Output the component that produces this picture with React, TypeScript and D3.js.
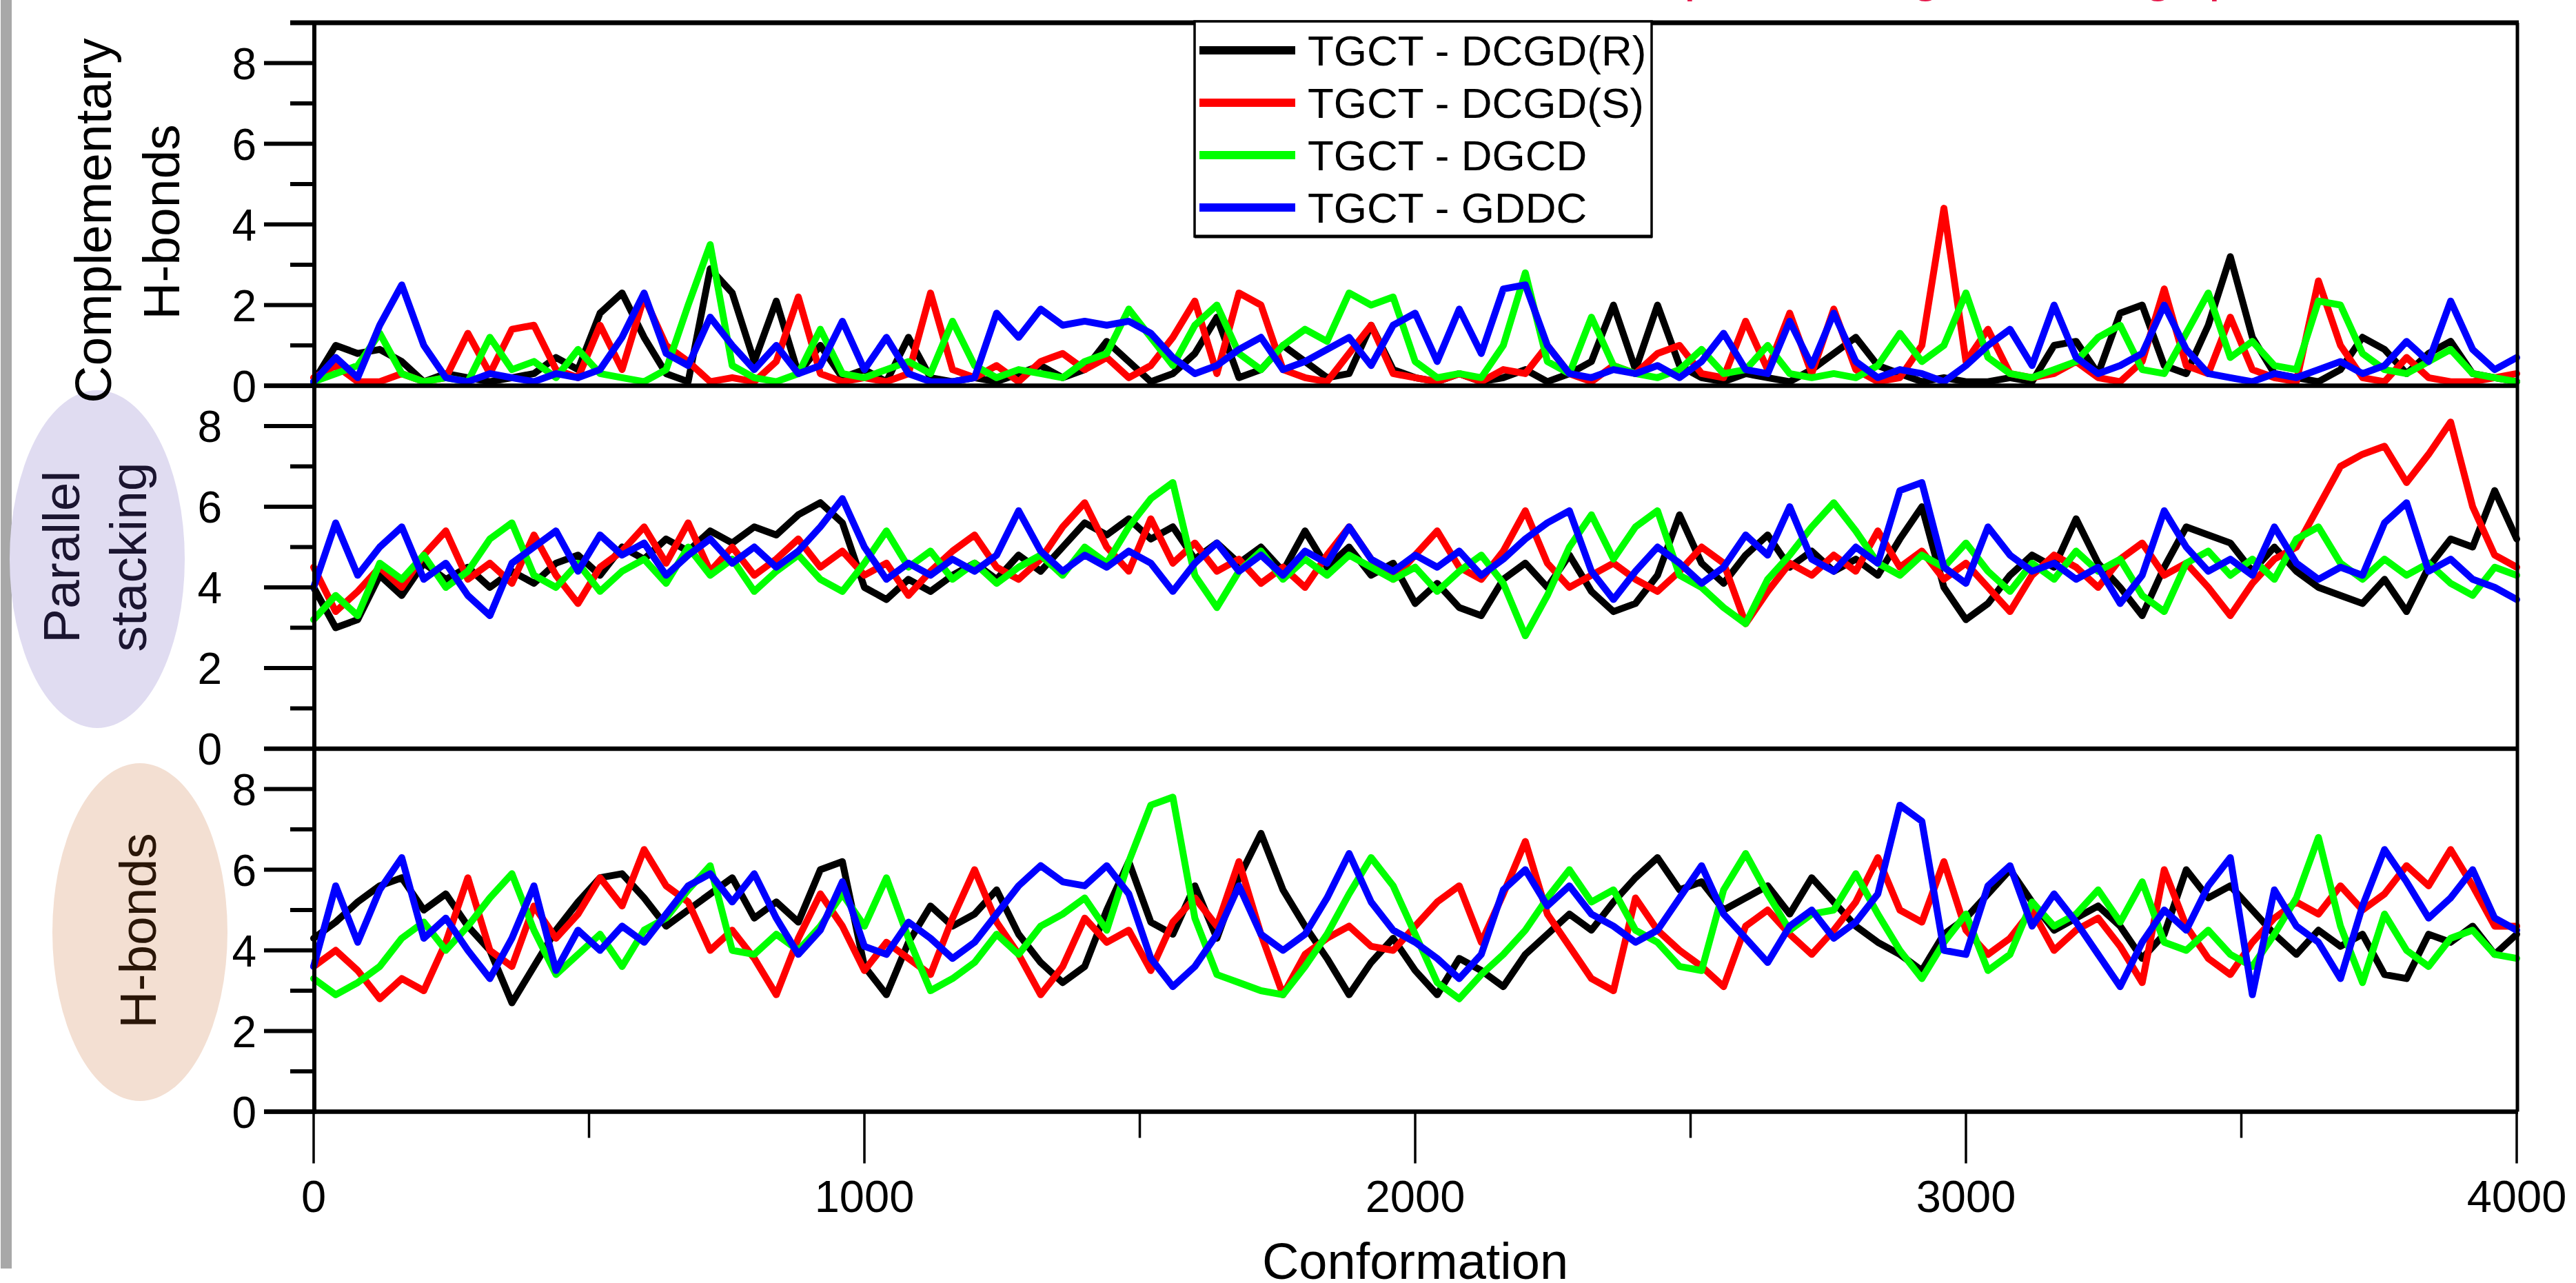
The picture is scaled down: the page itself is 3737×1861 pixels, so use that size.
import React from 'react';
import * as d3 from 'd3';

const W = 3737;
const H = 1861;

// x grid (conformation index), one sample every 40 conformations
const conformations = d3.range(0, 4001, 40);

const seriesNames = ['TGCT - DCGD(R)', 'TGCT - DCGD(S)', 'TGCT - DGCD', 'TGCT - GDDC'];
const seriesColors = ['#000000', '#ff0000', '#00ff00', '#0000ff'];

// ---- Complementary H-bonds ----
const compR = [0.1,1.0,0.8,0.9,0.6,0.1,0.3,0.2,0.1,0.2,
  0.3,0.7,0.4,1.8,2.3,1.2,0.3,0.1,2.9,2.3,
  0.6,2.1,0.3,1.0,0.2,0.4,0.1,1.2,0.2,0.1,
  0.2,0.1,0.3,0.5,0.2,0.4,1.1,0.6,0.1,0.3,
  0.8,1.7,0.2,0.4,1.0,0.6,0.2,0.3,1.5,0.4,
  0.2,0.1,0.3,0.1,0.2,0.4,0.1,0.3,0.6,2.0,
  0.4,2.0,0.5,0.2,0.1,0.3,0.2,0.1,0.4,0.8,
  1.2,0.5,0.3,0.1,0.2,0.1,0.1,0.2,0.1,1.0,
  1.1,0.3,1.8,2.0,0.5,0.3,1.5,3.2,1.2,0.3,
  0.2,0.1,0.4,1.2,0.9,0.3,0.8,1.1,0.3,0.2,0.1];
const compS = [0.2,0.5,0.1,0.1,0.3,0.1,0.2,1.3,0.3,1.4,
  1.5,0.4,0.2,1.5,0.4,2.2,1.0,0.6,0.1,0.2,
  0.1,0.6,2.2,0.3,0.1,0.2,0.1,0.3,2.3,0.4,
  0.2,0.5,0.1,0.6,0.8,0.4,0.7,0.2,0.5,1.2,
  2.1,0.3,2.3,2.0,0.4,0.2,0.1,0.8,1.5,0.3,
  0.2,0.1,0.3,0.1,0.4,0.3,1.0,0.3,0.1,0.5,
  0.3,0.8,1.0,0.3,0.2,1.6,0.4,1.8,0.3,1.9,
  0.4,0.1,0.2,1.0,4.4,0.6,1.4,0.3,0.2,0.3,
  0.6,0.2,0.1,0.6,2.4,0.5,0.3,1.7,0.4,0.2,
  0.1,2.6,1.0,0.2,0.1,0.7,0.2,0.1,0.1,0.2,0.3];
const compDGCD = [0.1,0.3,0.5,1.3,0.3,0.1,0.2,0.1,1.2,0.4,
  0.6,0.2,0.9,0.3,0.2,0.1,0.4,2.0,3.5,0.5,
  0.2,0.1,0.3,1.4,0.3,0.2,0.4,0.6,0.3,1.6,
  0.5,0.2,0.4,0.3,0.2,0.6,0.8,1.9,1.2,0.5,
  1.5,2.0,0.8,0.4,1.0,1.4,1.1,2.3,2.0,2.2,
  0.6,0.2,0.3,0.2,1.0,2.8,0.6,0.3,1.7,0.5,
  0.3,0.2,0.4,0.9,0.3,0.4,1.0,0.3,0.2,0.3,
  0.2,0.5,1.3,0.6,1.0,2.3,0.7,0.3,0.2,0.4,
  0.6,1.2,1.5,0.4,0.3,1.3,2.3,0.7,1.1,0.5,
  0.4,2.1,2.0,0.8,0.4,0.3,0.6,0.9,0.3,0.2,0.1];
const compGDDC = [0.1,0.7,0.2,1.5,2.5,1.0,0.2,0.1,0.3,0.2,
  0.1,0.3,0.2,0.4,1.2,2.3,0.8,0.5,1.7,1.0,
  0.4,1.0,0.3,0.5,1.6,0.4,1.2,0.3,0.1,0.1,
  0.2,1.8,1.2,1.9,1.5,1.6,1.5,1.6,1.3,0.7,
  0.3,0.5,0.9,1.2,0.4,0.6,0.9,1.2,0.5,1.5,
  1.8,0.6,1.9,0.8,2.4,2.5,1.0,0.3,0.2,0.4,
  0.3,0.5,0.2,0.6,1.3,0.4,0.3,1.6,0.5,1.8,
  0.6,0.2,0.4,0.3,0.1,0.5,1.0,1.4,0.5,2.0,
  0.7,0.3,0.5,0.8,2.0,0.9,0.3,0.2,0.1,0.3,
  0.2,0.4,0.6,0.3,0.5,1.1,0.6,2.1,0.9,0.4,0.7];

// ---- Parallel stacking ----
const stackR = [4.0,3.0,3.2,4.3,3.8,4.6,4.2,4.5,4.0,4.4,
  4.1,4.6,4.8,4.3,5.0,4.7,5.2,4.9,5.4,5.1,
  5.5,5.3,5.8,6.1,5.6,4.0,3.7,4.2,3.9,4.3,
  4.6,4.2,4.8,4.4,5.0,5.6,5.3,5.7,5.2,5.5,
  4.7,5.1,4.6,5.0,4.4,5.4,4.5,5.0,4.3,4.6,
  3.6,4.1,3.5,3.3,4.2,4.6,4.0,4.8,3.9,3.4,
  3.6,4.3,5.8,4.6,4.1,4.8,5.3,4.5,4.9,4.4,
  4.7,4.3,5.2,6.0,4.0,3.2,3.6,4.3,4.8,4.5,
  5.7,4.6,4.0,3.3,4.5,5.5,5.3,5.1,4.4,5.0,
  4.4,4.0,3.8,3.6,4.2,3.4,4.5,5.2,5.0,6.4,5.2];
const stackS = [4.5,3.4,3.9,4.5,4.0,4.8,5.4,4.2,4.6,4.1,
  5.3,4.3,3.6,4.5,4.9,5.5,4.6,5.6,4.4,5.0,
  4.3,4.7,5.2,4.5,4.9,4.3,4.6,3.8,4.4,4.9,
  5.3,4.5,4.2,4.7,5.5,6.1,5.0,4.4,5.7,4.6,
  5.1,4.4,4.7,4.1,4.5,4.0,4.8,5.5,4.7,4.2,
  4.8,5.4,4.5,4.2,4.9,5.9,4.6,4.0,4.3,4.6,
  4.2,3.9,4.4,5.0,4.6,3.1,3.9,4.6,4.3,4.8,
  4.4,5.4,4.5,4.9,4.2,4.6,4.0,3.4,4.3,4.8,
  4.5,4.0,4.7,5.1,4.3,4.6,4.0,3.3,4.1,4.7,
  5.0,6.0,7.0,7.3,7.5,6.6,7.3,8.1,6.0,4.8,4.5];
const stackDGCD = [3.2,3.8,3.3,4.6,4.2,4.8,4.0,4.4,5.2,5.6,
  4.3,4.0,4.6,3.9,4.4,4.7,4.1,5.0,4.3,4.7,
  3.9,4.4,4.8,4.2,3.9,4.6,5.4,4.5,4.9,4.2,
  4.6,4.1,4.5,4.8,4.3,5.0,4.6,5.5,6.2,6.6,
  4.3,3.5,4.4,4.9,4.2,4.7,4.3,4.8,4.5,4.2,
  4.5,3.9,4.4,4.8,4.1,2.8,3.8,5.0,5.8,4.7,
  5.5,5.9,4.3,4.0,3.5,3.1,4.2,4.8,5.5,6.1,
  5.4,4.6,4.3,4.8,4.5,5.1,4.4,3.9,4.6,4.2,
  4.9,4.4,4.7,3.8,3.4,4.6,4.9,4.3,4.7,4.2,
  5.2,5.5,4.6,4.2,4.7,4.3,4.6,4.1,3.8,4.5,4.3];
const stackGDDC = [4.0,5.6,4.3,5.0,5.5,4.2,4.6,3.8,3.3,4.6,
  5.0,5.4,4.4,5.3,4.8,5.1,4.3,4.8,5.2,4.6,
  5.0,4.5,4.9,5.5,6.2,5.0,4.2,4.6,4.3,4.7,
  4.4,4.8,5.9,4.9,4.4,4.8,4.5,4.9,4.6,3.9,
  4.6,5.1,4.4,4.8,4.3,4.9,4.6,5.5,4.7,4.4,
  4.8,4.5,4.9,4.3,4.7,5.2,5.6,5.9,4.4,3.7,
  4.4,5.0,4.6,4.1,4.5,5.3,4.8,6.0,4.7,4.4,
  5.0,4.6,6.4,6.6,4.5,4.1,5.5,4.8,4.4,4.6,
  4.2,4.5,3.6,4.3,5.9,5.0,4.4,4.7,4.3,5.5,
  4.6,4.2,4.5,4.3,5.6,6.1,4.4,4.7,4.2,4.0,3.7];

// ---- H-bonds ----
const hbR = [4.3,4.7,5.2,5.6,5.8,5.0,5.4,4.6,4.0,2.7,
  3.6,4.5,5.2,5.8,5.9,5.3,4.6,5.0,5.4,5.8,
  4.8,5.2,4.7,6.0,6.2,3.6,2.9,4.2,5.1,4.6,
  4.9,5.5,4.4,3.7,3.2,3.6,5.0,6.2,4.7,4.4,
  5.6,4.3,5.8,6.9,5.5,4.6,3.8,2.9,3.7,4.3,
  3.5,2.9,3.8,3.5,3.1,3.9,4.4,4.9,4.5,5.2,
  5.8,6.3,5.5,5.7,5.0,5.3,5.6,4.9,5.8,5.2,
  4.6,4.2,3.9,3.5,4.4,4.8,5.4,6.0,5.2,4.5,
  4.8,5.1,4.6,3.8,4.4,6.0,5.3,5.6,5.0,4.4,
  3.9,4.5,4.1,4.4,3.4,3.3,4.4,4.2,4.6,3.9,4.4];
const hbS = [3.6,4.0,3.5,2.8,3.3,3.0,4.2,5.8,4.0,3.6,
  5.1,4.3,4.9,5.8,5.1,6.5,5.6,5.2,4.0,4.5,
  3.8,2.9,4.3,5.4,4.6,3.5,4.2,3.8,3.4,4.8,
  6.0,4.7,3.9,2.9,3.6,4.8,4.2,4.5,3.5,4.7,
  5.3,4.6,6.2,4.4,2.9,3.9,4.3,4.6,4.1,4.0,
  4.6,5.2,5.6,4.2,5.4,6.7,4.9,4.1,3.3,3.0,
  5.3,4.5,4.0,3.6,3.1,4.6,5.0,4.4,3.9,4.5,
  5.2,6.3,5.0,4.7,6.2,4.5,3.9,4.3,5.0,4.0,
  4.5,4.8,4.1,3.2,6.0,4.6,3.8,3.4,4.2,4.8,
  5.2,4.9,5.6,5.0,5.4,6.1,5.6,6.5,5.6,4.6,4.6];
const hbDGCD = [3.3,2.9,3.2,3.6,4.3,4.7,4.0,4.6,5.3,5.9,
  4.5,3.4,3.9,4.4,3.6,4.5,4.8,5.5,6.1,4.0,
  3.9,4.4,4.0,4.6,5.4,4.6,5.8,4.3,3.0,3.3,
  3.7,4.4,3.9,4.6,4.9,5.3,4.5,6.2,7.6,7.8,
  4.8,3.4,3.2,3.0,2.9,3.6,4.4,5.4,6.3,5.6,
  4.4,3.2,2.8,3.4,3.9,4.5,5.3,6.0,5.2,5.5,
  4.5,4.2,3.6,3.5,5.5,6.4,5.4,4.5,4.9,5.0,
  5.9,4.9,4.0,3.3,4.2,4.9,3.5,3.9,5.2,4.6,
  4.9,5.5,4.7,5.7,4.2,4.0,4.5,3.9,3.6,4.4,
  5.3,6.8,4.6,3.2,4.9,4.0,3.6,4.3,4.5,3.9,3.8];
const hbGDDC = [3.6,5.6,4.2,5.5,6.3,4.3,4.8,4.0,3.3,4.3,
  5.6,3.5,4.5,4.0,4.6,4.2,4.9,5.6,5.9,5.2,
  5.9,4.8,3.9,4.5,5.7,4.1,3.9,4.7,4.3,3.8,
  4.2,4.9,5.6,6.1,5.7,5.6,6.1,5.4,3.8,3.1,
  3.6,4.4,5.6,4.4,4.0,4.4,5.3,6.4,5.2,4.5,
  4.2,3.8,3.3,3.9,5.5,6.0,5.1,5.6,4.9,4.6,
  4.2,4.5,5.3,6.1,4.9,4.3,3.7,4.6,5.0,4.3,
  4.7,5.4,7.6,7.2,4.0,3.9,5.6,6.1,4.6,5.4,
  4.7,3.9,3.1,4.2,5.0,4.5,5.6,6.3,2.9,5.5,
  4.6,4.2,3.3,5.1,6.5,5.7,4.8,5.3,6.0,4.8,4.5];

const xMajorTicks = [0, 1000, 2000, 3000, 4000];
const xMinorTicks = [500, 1500, 2500, 3500];
const yMajorTicks = [0, 2, 4, 6, 8];
const yMinorTicks = [1, 3, 5, 7, 9];

const FONT = "'Liberation Sans', Arial, Helvetica, sans-serif";

const panels = [
  { id: 'comp', series: [compR, compS, compDGCD, compGDDC], top: 33, labelRight: 372 },
  { id: 'stack', series: [stackR, stackS, stackDGCD, stackGDDC], top: 559.5, labelRight: 322 },
  { id: 'hb', series: [hbR, hbS, hbDGCD, hbGDDC], top: 1086, labelRight: 372 },
];
const PANEL_H = 526.5;

const X0 = 455;
const X1 = 3651;
const SPINE_X = 456;

export default function App() {
  const x = d3.scaleLinear().domain([0, 4000]).range([X0, X1]);
  const bottomY = panels[2].top + PANEL_H;

  return (
    <svg width={W} height={H} viewBox={`0 0 ${W} ${H}`}
      style={{ position: 'absolute', left: 0, top: 0, display: 'block', background: '#fff' }}
      fontFamily={FONT}>
      <rect x={0} y={0} width={W} height={H} fill="#ffffff" />
      {/* left grey bar */}
      <rect x={1} y={0} width={16} height={1840} fill="#a8a8a8" />

      {/* title, cut off at the top edge in the original */}
      <text y={-13} fontSize={75} fill="#e6194b">
        <tspan x={2443}>p</tspan>
        <tspan x={2773}>g</tspan>
        <tspan x={3110}>g</tspan>
        <tspan x={3204}>p</tspan>
      </text>

      {/* side label ellipses */}
      <ellipse cx={141} cy={811} rx={127} ry={245} fill="#e0dcf1" />
      <ellipse cx={203} cy={1352} rx={127} ry={245} fill="#f3dfd2" />

      {/* y axis titles */}
      <text transform="translate(161,320) rotate(-90)" textAnchor="middle" fontSize={75} fill="#000">Complementary</text>
      <text transform="translate(260,322) rotate(-90)" textAnchor="middle" fontSize={75} fill="#000">H-bonds</text>
      <text transform="translate(115,808) rotate(-90)" textAnchor="middle" fontSize={75} fill="#1b1530">Parallel</text>
      <text transform="translate(212,808) rotate(-90)" textAnchor="middle" fontSize={75} fill="#1b1530">stacking</text>
      <text transform="translate(226,1350) rotate(-90)" textAnchor="middle" fontSize={75} fill="#2a1608">H-bonds</text>

      {panels.map((p) => {
        const y = d3.scaleLinear().domain([0, 9]).range([p.top + PANEL_H, p.top]);
        const line = d3.line<number>()
          .x((_, i) => x(conformations[i]))
          .y((d) => y(d))
          .curve(d3.curveLinear);
        return (
          <g key={p.id}>
            {p.series.map((s, si) => (
              <path key={si} d={line(s) || ''} fill="none" stroke={seriesColors[si]}
                strokeWidth={10} strokeLinejoin="round" strokeLinecap="round" />
            ))}
            {yMajorTicks.map((t) => (
              <g key={'M' + t}>
                <line x1={383} x2={SPINE_X} y1={y(t)} y2={y(t)} stroke="#000" strokeWidth={6} />
                <text x={p.labelRight} y={y(t)} dy="0.36em" textAnchor="end" fontSize={64} fill="#000">{t}</text>
              </g>
            ))}
            {yMinorTicks.map((t) => (
              <line key={'m' + t} x1={421} x2={SPINE_X} y1={y(t)} y2={y(t)} stroke="#000" strokeWidth={6} />
            ))}
            <line x1={383} x2={X1 + 2} y1={y(0)} y2={y(0)} stroke="#000" strokeWidth={6.5} />
          </g>
        );
      })}

      {/* frame: top, left spine, right */}
      <line x1={421} x2={X1 + 3} y1={panels[0].top} y2={panels[0].top} stroke="#000" strokeWidth={7} />
      <line x1={SPINE_X} x2={SPINE_X} y1={panels[0].top - 3} y2={bottomY + 3} stroke="#000" strokeWidth={6} />
      <line x1={X1 + 1} x2={X1 + 1} y1={panels[0].top} y2={bottomY} stroke="#000" strokeWidth={5} />

      {/* x ticks */}
      {xMajorTicks.map((t) => (
        <g key={'xM' + t}>
          <line x1={x(t)} x2={x(t)} y1={bottomY} y2={bottomY + 75} stroke="#000" strokeWidth={3.5} />
          <text x={x(t)} y={1758} textAnchor="middle" fontSize={65} fill="#000">{t}</text>
        </g>
      ))}
      {xMinorTicks.map((t) => (
        <line key={'xm' + t} x1={x(t)} x2={x(t)} y1={bottomY} y2={bottomY + 38} stroke="#000" strokeWidth={3.5} />
      ))}
      <text x={x(2000)} y={1855} textAnchor="middle" fontSize={74} fill="#000">Conformation</text>

      {/* legend */}
      <g>
        <rect x={1733} y={31} width={663} height={312} fill="#fff" stroke="#000" strokeWidth={3.5} />
        <line x1={1733} x2={2397} y1={343} y2={343} stroke="#000" strokeWidth={5} />
        {seriesNames.map((n, i) => {
          const cy = 73 + i * 76;
          return (
            <g key={n}>
              <line x1={1740} x2={1879} y1={cy} y2={cy} stroke={seriesColors[i]} strokeWidth={12} />
              <text x={1897} y={cy + 22} fontSize={62} fill="#000">{n}</text>
            </g>
          );
        })}
      </g>
    </svg>
  );
}
